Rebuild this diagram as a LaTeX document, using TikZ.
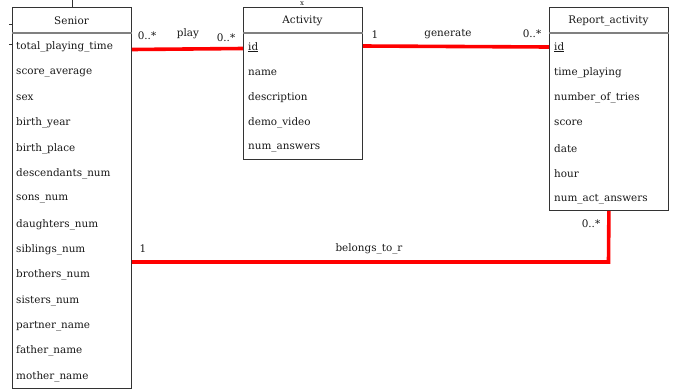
\documentclass[tikz,border=0pt]{standalone}
\usepackage{fontspec}
\setmainfont{DejaVu Serif}
\begin{document}
\begin{tikzpicture}[x=1pt,y=-1pt,
  txt/.style={font=\fontsize{10.4}{12}\selectfont, text=black!90, inner sep=0pt},
  entity/.style={draw=black!80, line width=0.8pt, fill=white, anchor=north west, inner sep=0pt},
  headline/.style={draw=black!50, line width=1.4pt},
  attr/.style={txt, anchor=west},
  title/.style={txt},
  rel/.style={draw=red, line width=3.6pt},
  mult/.style={txt},
  tick/.style={draw=black!80, line width=0.7pt}]
\useasboundingbox (0,0) rectangle (674,389);

% ---------- Senior ----------
\node[entity, minimum width=119pt, minimum height=381pt] (senior) at (12,7) {};
\draw[headline] (senior.west |- 0,33) -- (senior.east |- 0,33);
\node[title] (seniorT) at (71.5,20.5) {Senior};
\foreach \n/\t [count=\i] in {total\_playing\_time, score\_average, sex, birth\_year,
    birth\_place, descendants\_num, sons\_num, daughters\_num, siblings\_num,
    brothers\_num, sisters\_num, partner\_name, father\_name, mother\_name}
  \node[attr] (s\i) at (16,{47.2+25.32*(\i-1)}) {\n};

% ---------- Activity ----------
\node[entity, minimum width=119pt, minimum height=152pt] (activity) at (243,7) {};
\draw[headline] (activity.west |- 0,33) -- (activity.east |- 0,33);
\node[title] (activityT) at (302.5,20.5) {Activity};
\node[attr] (a1) at (248,47.2) {\underline{id}};
\foreach \n [count=\i from 2] in {name, description, demo\_video, num\_answers}
  \node[attr] (a\i) at (248,{47.2+25.3*(\i-1)}) {\n};

% ---------- Report_activity ----------
\node[entity, minimum width=119pt, minimum height=203pt] (report) at (549,7) {};
\draw[headline] (report.west |- 0,33) -- (report.east |- 0,33);
\node[title] (reportT) at (608.5,20.5) {Report\_activity};
\node[attr] (r1) at (554,47.2) {\underline{id}};
\foreach \n [count=\i from 2] in {time\_playing, number\_of\_tries, score, date, hour,
    num\_act\_answers}
  \node[attr] (r\i) at (554,{47.2+25.3*(\i-1)}) {\n};

% ---------- small marks along the top ----------
\draw[tick] (senior.north) -- ++(0,-8);
\draw[tick] (senior.north west |- 0,24) -- ++(-3,0);
\draw[tick] (senior.north west |- 0,44) -- ++(-3,0);
\node[txt, font=\fontsize{7}{8}\selectfont] (amark) at (302,3.4) {x};

% ---------- relationships ----------
\draw[rel] ([yshift=-2.3pt]senior.east |- s1) -- ([yshift=-1.3pt]activity.west |- a1);
\draw[rel] ([yshift=1.2pt]activity.east |- a1) -- ([yshift=0.2pt]report.west |- r1);
\coordinate (bend) at (608.5,262);
\draw[rel] (report.south) -- (bend) -- (senior.east |- bend);

% ---------- multiplicities and names ----------
\node[mult] (m1) at (147,35.5) {0..*};
\node[mult] (play) at (188,33.5) {play};
\node[mult] (m2) at (226,37.5) {0..*};
\node[mult] (m3) at (375,34.5) {1};
\node[mult] (gen) at (448,34.5) {generate};
\node[mult] (m4) at (532,33.5) {0..*};
\node[mult] (m5) at (143,248.5) {1};
\node[mult] (bel) at (369,248.5) {belongs\_to\_r};
\node[mult] (m6) at (591,223.5) {0..*};
\end{tikzpicture}
\end{document}
